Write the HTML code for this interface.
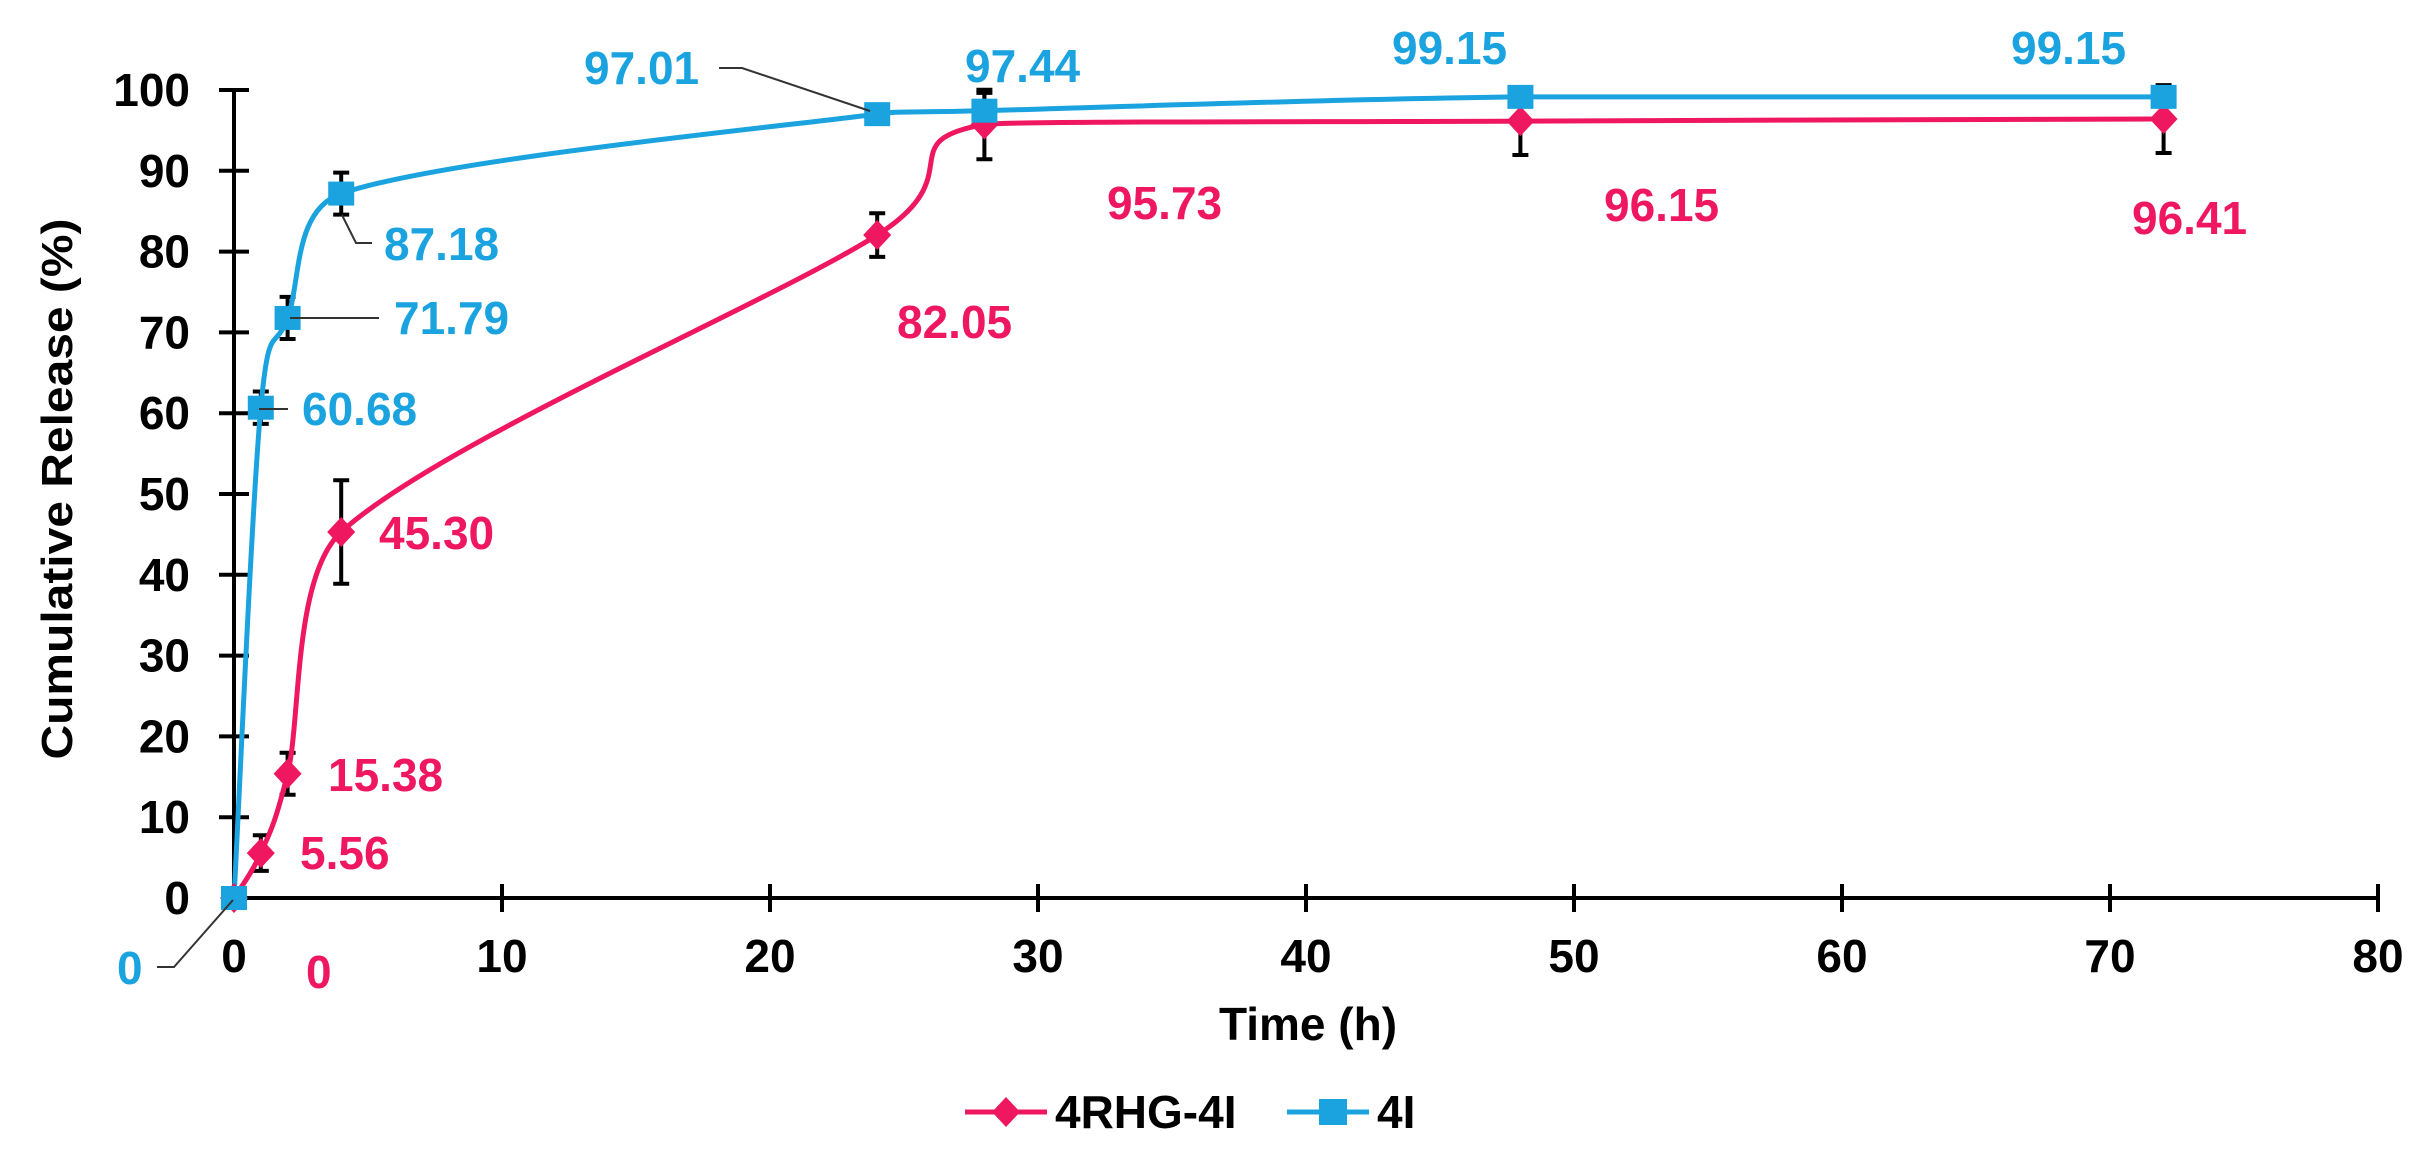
<!DOCTYPE html>
<html><head><meta charset="utf-8"><style>
html,body{margin:0;padding:0;background:#fff;width:2427px;height:1160px;overflow:hidden}
svg{display:block}
text{font-family:"Liberation Sans",Arial,sans-serif;font-weight:bold}
.t{font-size:46px;fill:#000}
.b{font-size:46px;fill:#1aa3df}
.p{font-size:46px;fill:#ee1760}
</style></head><body>
<svg id="s" width="2427" height="1160" viewBox="0 0 2427 1160" xmlns="http://www.w3.org/2000/svg">
<g id="axes" stroke="#000" stroke-width="4" fill="none">
<line x1="234" y1="90" x2="234" y2="898"/>
<line x1="234" y1="898" x2="2378" y2="898"/>
</g>
<g id="ticks" stroke="#000" stroke-width="4"></g>
<g id="ylab" class="t" text-anchor="end"></g>
<g id="xlab" class="t" text-anchor="middle"></g>
<text x="1308" y="1040" class="t" text-anchor="middle" font-size="44">Time (h)</text>
<text transform="translate(72,489) rotate(-90)" text-anchor="middle" font-size="44" textLength="541" lengthAdjust="spacingAndGlyphs" fill="#000">Cumulative Release (%)</text>
<g id="series"></g>
<g stroke="#333" stroke-width="2" fill="none">
<polyline points="719,68 742,68 870,111"/>
<polyline points="342,215 356,243 372,243"/>
<polyline points="290,318 379,318"/>
<polyline points="259,409 288,409"/>
<polyline points="157,967 174,967 233,900"/>
</g>
<text class="b" x="584" y="84">97.01</text>
<text class="b" x="965" y="82">97.44</text>
<text class="b" x="1392" y="64">99.15</text>
<text class="b" x="2011" y="64">99.15</text>
<text class="b" x="384" y="260">87.18</text>
<text class="b" x="394" y="334">71.79</text>
<text class="b" x="302" y="425">60.68</text>
<text class="b" x="117" y="984">0</text>
<text class="p" x="1107" y="219">95.73</text>
<text class="p" x="1604" y="221">96.15</text>
<text class="p" x="2132" y="234">96.41</text>
<text class="p" x="897" y="338">82.05</text>
<text class="p" x="379" y="549">45.30</text>
<text class="p" x="328" y="791">15.38</text>
<text class="p" x="300" y="869">5.56</text>
<text class="p" x="306" y="988">0</text>
<line x1="965" y1="1112" x2="1047" y2="1112" stroke="#ee1760" stroke-width="5"/>
<polygon points="1006,1097 1020,1112 1006,1127 992,1112" fill="#ee1760"/>
<text class="t" x="1055" y="1128">4RHG-4I</text>
<line x1="1287" y1="1112" x2="1369" y2="1112" stroke="#1aa3df" stroke-width="5"/>
<rect x="1319" y="1099" width="28" height="26" fill="#1aa3df"/>
<text class="t" x="1377" y="1128">4I</text>
</svg>
<script>
var NS="http://www.w3.org/2000/svg";
function X(t){return 234+26.8*t}
function Y(v){return 898-8.08*v}
function el(n,a,p){var e=document.createElementNS(NS,n);for(var k in a)e.setAttribute(k,a[k]);p.appendChild(e);return e}
var tk=document.getElementById('ticks'),yl=document.getElementById('ylab'),xl=document.getElementById('xlab');
for(var v=0;v<=100;v+=10){var y=Y(v);if(v>0)el('line',{x1:219,y1:y,x2:249,y2:y},tk);var t=el('text',{x:190,y:y+16},yl);t.textContent=v;}
for(var h=0;h<=80;h+=10){var x=X(h);if(h>0)el('line',{x1:x,y1:884,x2:x,y2:912},tk);var t=el('text',{x:x,y:972},xl);t.textContent=h;}
var T=[0,1,2,4,24,28,48,72];
var blue=[0,60.68,71.79,87.18,97.01,97.44,99.15,99.15],be=[0,2,2.6,2.6,0,2.2,0.5,0.5];
var pink=[0,5.56,15.38,45.30,82.05,95.73,96.15,96.41],pe=[0,2.2,2.6,6.4,2.7,4.3,4.2,4.2];
function lim(base,vx,vy,dx,dy){var s=1;
if(Math.abs(vx)>Math.abs(dx)*0.9&&vx!==0)s=Math.min(s,Math.abs(dx)*0.9/Math.abs(vx));
if(Math.abs(vy)>Math.abs(dy)&&vy!==0)s=Math.min(s,Math.abs(dy)/Math.abs(vy)+0.0);
return [base[0]+vx*s,base[1]+vy*s]}
function path(vals){var P=T.map(function(t,i){return [X(t),Y(vals[i])]});var d="M"+P[0][0]+","+P[0][1];
for(var i=0;i<P.length-1;i++){var p0=P[Math.max(0,i-1)],p1=P[i],p2=P[i+1],p3=P[Math.min(P.length-1,i+2)];
var dx=p2[0]-p1[0],dy=p2[1]-p1[1];
var c1=lim(p1,(p2[0]-p0[0])/6,(p2[1]-p0[1])/6,dx,dy);
var c2=lim(p2,-(p3[0]-p1[0])/6,-(p3[1]-p1[1])/6,dx,dy);
d+=" C"+c1.join(",")+" "+c2.join(",")+" "+p2.join(",");}return d}
var g=document.getElementById('series');
function err(vals,e){for(var i=1;i<T.length;i++){if(!e[i])continue;var x=X(T[i]),y1=Y(vals[i]+e[i]),y2=Y(vals[i]-e[i]);
el('line',{x1:x,y1:y1,x2:x,y2:y2,stroke:'#000','stroke-width':4},g);
el('line',{x1:x-8,y1:y1,x2:x+8,y2:y1,stroke:'#000','stroke-width':4},g);
el('line',{x1:x-8,y1:y2,x2:x+8,y2:y2,stroke:'#000','stroke-width':4},g);}}
err(pink,pe);err(blue,be);
el('path',{d:path(pink),fill:'none',stroke:'#ee1760','stroke-width':5},g);
el('path',{d:path(blue),fill:'none',stroke:'#1aa3df','stroke-width':5},g);
for(var i=0;i<T.length;i++){var x=X(T[i]),y=Y(pink[i]);
el('polygon',{points:(x)+","+(y-15)+" "+(x+14)+","+y+" "+x+","+(y+15)+" "+(x-14)+","+y,fill:'#ee1760'},g);}
for(var i=0;i<T.length;i++){var x=X(T[i]),y=Y(blue[i]);el('rect',{x:x-13,y:y-12,width:26,height:24,fill:'#1aa3df'},g);}
</script>
</body></html>
